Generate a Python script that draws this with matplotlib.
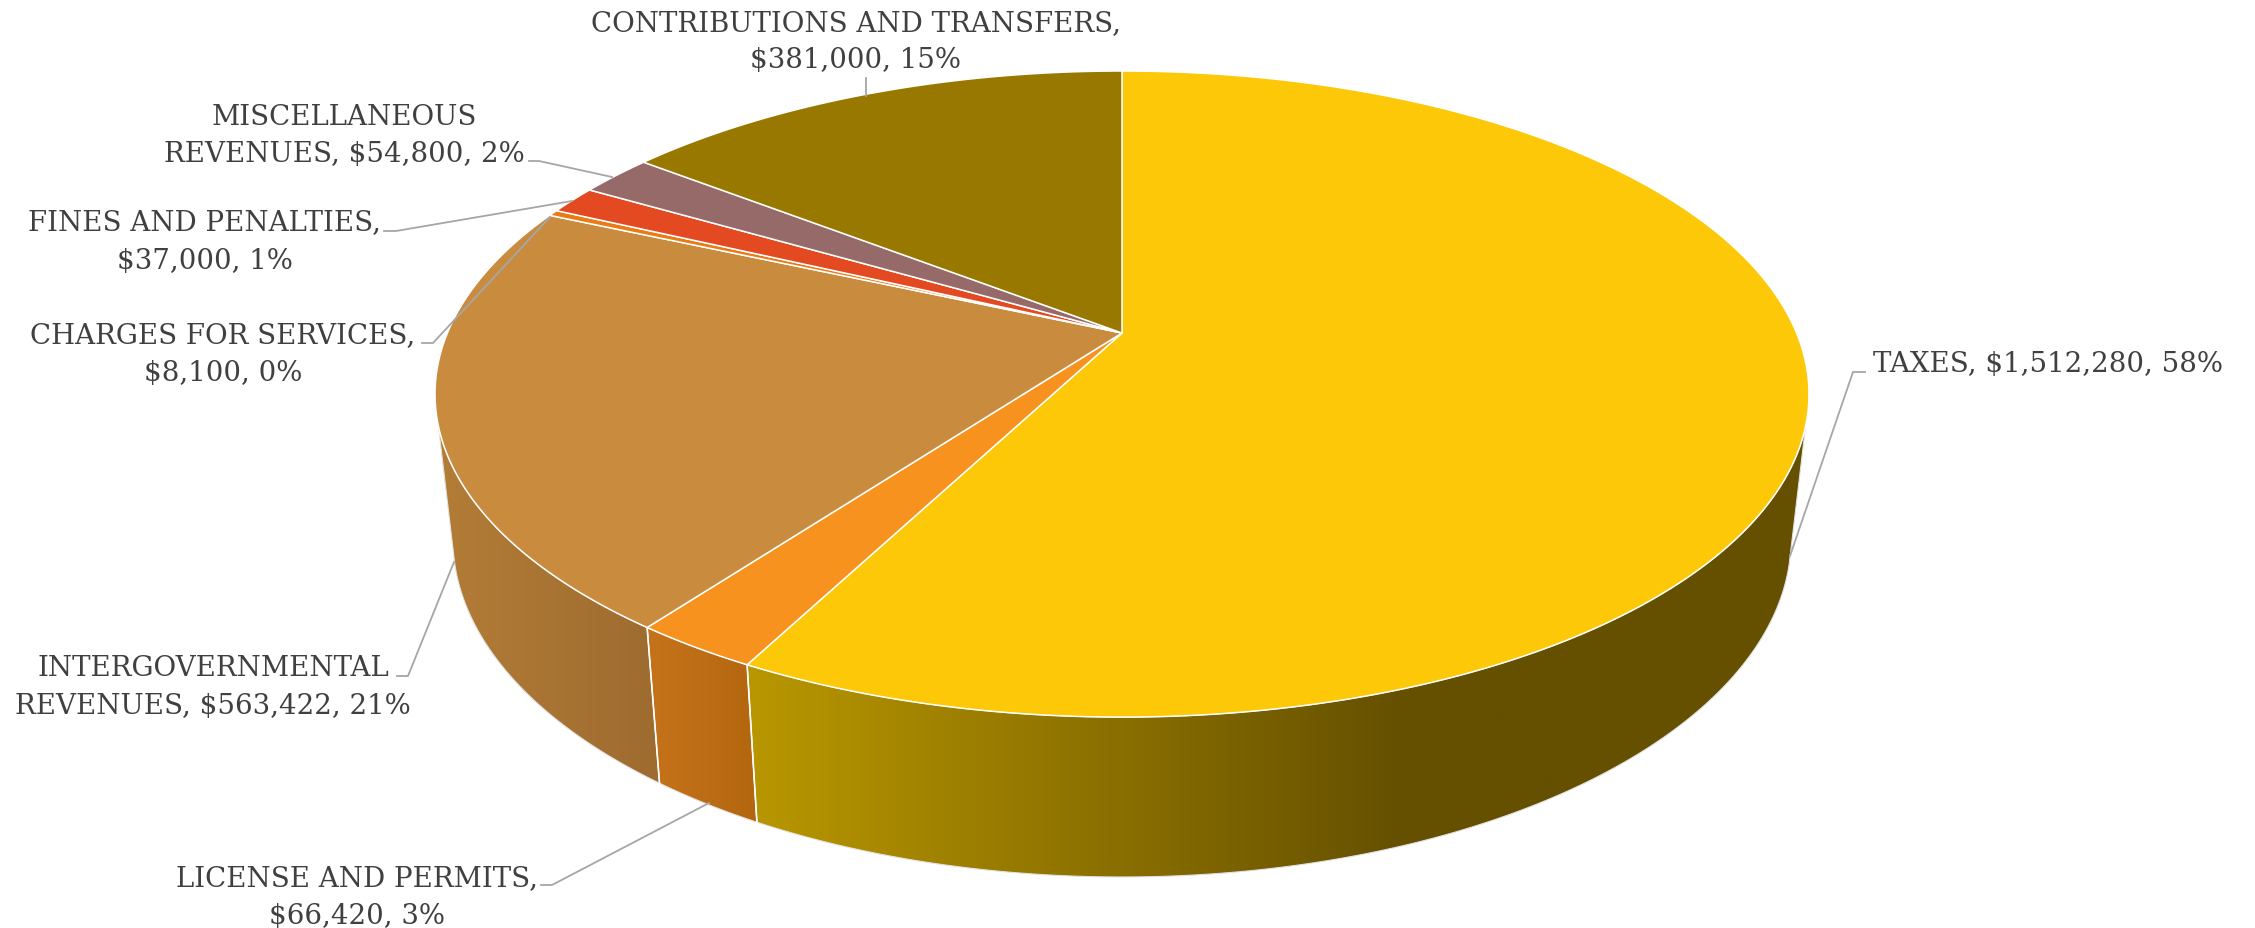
from matplotlib import pyplot as plt
from matplotlib.colors import to_rgb
from matplotlib.patches import Polygon
import numpy as np

categories = ['TAXES', 'LICENSE AND PERMITS', 'INTERGOVERNMENTAL REVENUES', 'CHARGES FOR SERVICES',
              'FINES AND PENALTIES', 'MISCELLANEOUS REVENUES', 'CONTRIBUTIONS AND TRANSFERS']
values = [1512280, 66420, 563422, 8100, 37000, 54800, 381000]
percents = [58, 3, 21, 0, 1, 2, 15]
topColors = ['#FCC808', '#F7921E', '#C98B3E', '#EC7A14', '#E34A21', '#976A6A', '#997800']

# left and right shade of the visible rim, with the x range of the ramp
sideShades = {0: ('#B89600', '#655000', 758, 1400),
              1: ('#C4721A', '#B3660F', 660, 758),
              2: ('#B27C36', '#9E6B30', 450, 660)}

labelLines = [
  (['TAXES, $1,512,280, 58%'], 2048, [364]),
  (['LICENSE AND PERMITS,', '$66,420, 3%'], 357, [879, 917]),
  (['INTERGOVERNMENTAL', 'REVENUES, $563,422, 21%'], 213, [669, 707]),
  (['CHARGES FOR SERVICES,', '$8,100, 0%'], 223, [336, 373]),
  (['FINES AND PENALTIES,', '$37,000, 1%'], 205, [223, 261]),
  (['MISCELLANEOUS', 'REVENUES, $54,800, 2%'], 344, [117, 154]),
  (['CONTRIBUTIONS AND TRANSFERS,', '$381,000, 15%'], 856, [24, 60]),
]
leaders = [
  [(1865, 373), (1853, 373), (1790, 557)],
  [(541, 886), (552, 886), (709, 804)],
  [(397, 677), (408, 677), (454, 563)],
  [(422, 344), (433, 344), (550, 218)],
  [(384, 232), (396, 232), (572, 202)],
  [(529, 162), (539, 162), (612, 178)],
  [(866, 79), (866, 97)],
]

# perspective disc, angle is clockwise from twelve o'clock
cx, cy = 1122.0, 334.0
persp = 0.189
topR, topB, topDrop = 674.6, 311.5, 0.0
botR, botB, botDrop = 657.0, 326.0, 142.0

def rim(theta, R, B, drop):
  u = np.sin(theta)
  v = np.cos(theta)
  d = 1 + persp*v
  return np.column_stack((cx + R*u/d, cy + drop - B*v/d))

def topRim(theta):
  return rim(theta, topR, topB, topDrop)

def botRim(theta):
  return rim(theta, botR, botB, botDrop)

fig = plt.figure(figsize=(22.55, 9.29), dpi=100)
axis = fig.add_axes([0, 0, 1, 1])

fractions = np.array(values)/np.sum(values)
edges = np.concatenate(([0.0], np.cumsum(fractions)))*2*np.pi

# where the silhouette leaves the top and bottom rims
tanTop = np.arccos(-0.2826)
tanBot = np.arccos(-0.26)

# rim walls, only the three front slices are seen
for i in sideShades:
  c0, c1, x0, x1 = sideShades[i]
  start = edges[i]
  end = edges[i+1]
  if i == 0:
    tTop = np.linspace(tanTop, end, 200)
    tBot = np.linspace(tanBot, end, 200)
  elif i == 2:
    tTop = np.linspace(start, 2*np.pi - tanTop, 100)
    tBot = np.linspace(start, 2*np.pi - tanBot, 100)
  else:
    tTop = np.linspace(start, end, 40)
    tBot = tTop
  pts = np.vstack((topRim(tTop), botRim(tBot)[::-1]))
  clip = Polygon(pts, closed=True, facecolor='none', edgecolor='none')
  axis.add_patch(clip)
  minX, maxX = pts[:, 0].min(), pts[:, 0].max()
  xs = np.linspace(minX, maxX, 800)
  t = np.clip((xs - x0)/(x1 - x0), 0, 1)
  a = np.array(to_rgb(c0))
  b = np.array(to_rgb(c1))
  img = (a + (b - a)*t[:, None])[None, :, :]
  im = axis.imshow(img, extent=(minX, maxX, pts[:, 1].max(), pts[:, 1].min()),
                   aspect='auto', interpolation='bilinear', zorder=2)
  im.set_clip_path(clip)
  axis.add_patch(Polygon(pts, closed=True, facecolor='none', edgecolor='#E2E2E2', lw=0.8, zorder=3))

# imshow resets the limits, so set the view after it
axis.set_xlim(0, 2255)
axis.set_ylim(929, 0)
axis.axis('off')

# seams on the rim
for i in [1, 2]:
  p0 = topRim(np.array([edges[i]]))[0]
  p1 = botRim(np.array([edges[i]]))[0]
  axis.plot([p0[0], p1[0]], [p0[1], p1[1]], color='white', lw=1.2, zorder=4)

# top face
for i in range(len(values)):
  arc = topRim(np.linspace(edges[i], edges[i+1], max(int(600*fractions[i]), 4)))
  pts = np.vstack(([cx, cy], arc))
  axis.add_patch(Polygon(pts, closed=True, facecolor=topColors[i], edgecolor='white',
                         lw=1.1, joinstyle='round', zorder=5))

for pts in leaders:
  pts = np.array(pts)
  axis.plot(pts[:, 0], pts[:, 1], color='#A6A6A6', lw=1.3, zorder=6, solid_joinstyle='round')

for lines, x, ys in labelLines:
  for line, y in zip(lines, ys):
    axis.text(x, y, line, ha='center', va='center', color='#404040',
              fontsize=19.9, family='DejaVu Serif', zorder=7)

fig.savefig('out.png', dpi=100, facecolor='white')
